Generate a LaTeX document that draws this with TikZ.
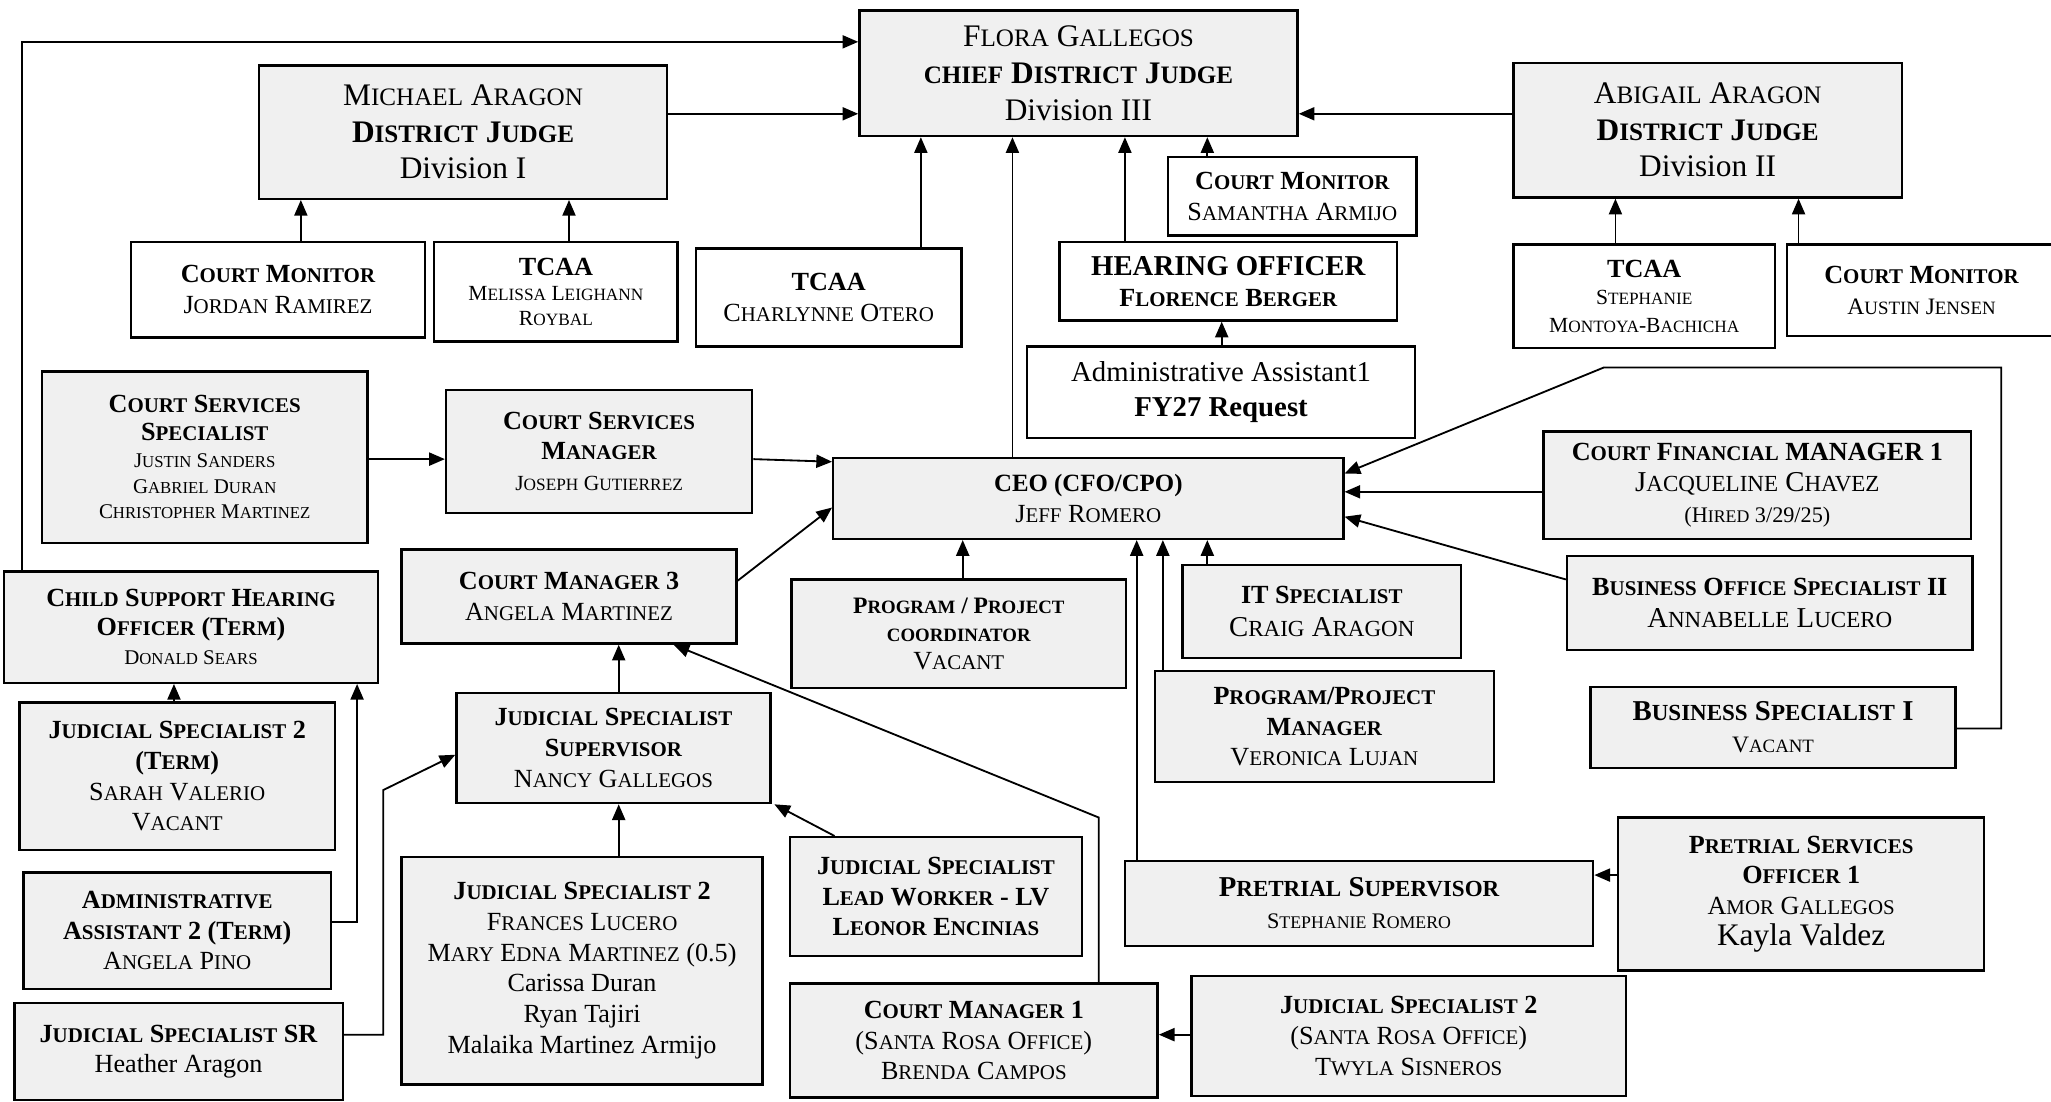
\documentclass[tikz,border=0pt]{standalone}
\usepackage{fontspec}
\setmainfont{Liberation Serif}
\usepackage{graphicx}
\usetikzlibrary{arrows.meta}
\newcommand\smc[1]{\scalebox{0.8}{#1}}
\newcommand\fs[2]{\fontsize{#1}{#2}\selectfont}
\newcommand\obox[7]{\node[#6,minimum width={#4-#2},minimum height={#5-#3}] (#1) at ({(#2+#4)/2},{(#3+#5)/2}) {#7};}
\tikzset{
  box/.style={draw, line width=1.8pt, inner sep=0pt, align=center, font=\fs{20}{23.5}},
  shd/.style={box, fill=black!6},
  pln/.style={box, fill=white},
  arr/.style={line width=1.4pt, -{Triangle[length=12pt,width=10pt]}},
}
\begin{document}
\begin{tikzpicture}[x=1pt,y=-1pt]
\useasboundingbox (0,0) rectangle (1568,842);
\clip (0,0) rectangle (1568,842);
% top row
\obox{flora}{657}{8}{992}{104}{shd,font=\fs{24}{28}}{F\smc{LORA} G\smc{ALLEGOS}\\ \textbf{\smc{CHIEF} D\smc{ISTRICT} J\smc{UDGE}}\\ Division III}
\obox{michael}{198}{50}{510}{152}{shd,font=\fs{24}{28}}{M\smc{ICHAEL} A\smc{RAGON}\\ \textbf{D\smc{ISTRICT} J\smc{UDGE}}\\ Division I}
\obox{abigail}{1157}{48}{1454}{151}{shd,font=\fs{24}{28}}{A\smc{BIGAIL} A\smc{RAGON}\\ \textbf{D\smc{ISTRICT} J\smc{UDGE}}\\ Division II}
\obox{cmjordan}{100}{185}{325}{258}{pln}{\textbf{C\smc{OURT} M\smc{ONITOR}}\\ J\smc{ORDAN} R\smc{AMIREZ}}
\obox{tcaamel}{332}{185}{518}{261}{pln,font=\fs{16.5}{19}}{{\fs{20}{22}\textbf{TCAA}}\\ M\smc{ELISSA} L\smc{EIGHANN}\\ R\smc{OYBAL}}
\obox{tcaachar}{532}{190}{735}{265}{pln}{\textbf{TCAA}\\ C\smc{HARLYNNE} O\smc{TERO}}
\obox{cmsam}{893}{120}{1083}{180}{pln}{\textbf{C\smc{OURT} M\smc{ONITOR}}\\ S\smc{AMANTHA} A\smc{RMIJO}}
\obox{ho}{810}{185}{1068}{245}{pln}{{\fs{22}{24}\bfseries HEARING OFFICER}\\ \textbf{F\smc{LORENCE} B\smc{ERGER}}}
\obox{aa1}{785}{265}{1082}{335}{pln,font=\fs{22}{27}}{Administrative Assistant1\\ \textbf{FY27 Request}}
\obox{tcaasteph}{1157}{187}{1357}{266}{pln,font=\fs{16.5}{21}}{{\fs{20}{22}\textbf{TCAA}}\\ S\smc{TEPHANIE}\\ M\smc{ONTOYA}-B\smc{ACHICHA}}
\obox{cmaustin}{1366}{187}{1572}{257}{pln}{\textbf{C\smc{OURT} M\smc{ONITOR}}\\ {\fs{18}{22}A\smc{USTIN} J\smc{ENSEN}}}
% middle
\obox{css}{32}{284}{281}{415}{shd,font=\fs{16}{19.5}}{{\fs{20}{23}\bfseries C\smc{OURT} S\smc{ERVICES}}\\[2pt] {\fs{20}{23}\bfseries S\smc{PECIALIST}}\\[1pt] J\smc{USTIN} S\smc{ANDERS}\\ G\smc{ABRIEL} D\smc{URAN}\\ C\smc{HRISTOPHER} M\smc{ARTINEZ}}
\obox{csm}{341}{298}{575}{392}{shd}{\textbf{C\smc{OURT} S\smc{ERVICES}}\\ \textbf{M\smc{ANAGER}}\\ {\fs{16.5}{21}J\smc{OSEPH} G\smc{UTIERREZ}}}
\obox{ceo}{637}{350}{1027}{412}{shd}{{\fs{19}{24}\bfseries CEO (CFO/CPO)}\\ J\smc{EFF} R\smc{OMERO}}
\obox{cfm}{1180}{330}{1507}{412}{shd,font=\fs{20}{24}}{\textbf{C\smc{OURT} F\smc{INANCIAL} MANAGER 1}\\ {\fs{22}{25}J\smc{ACQUELINE} C\smc{HAVEZ}}\\ {\fs{17}{21}(H\smc{IRED} 3/29/25)}}
\obox{bos}{1198}{425}{1508}{497}{shd,font=\fs{20}{25}}{\textbf{B\smc{USINESS} O\smc{FFICE} S\smc{PECIALIST} II}\\ {\fs{22}{25}A\smc{NNABELLE} L\smc{UCERO}}}
\obox{bs1}{1216}{525}{1495}{587}{shd,font=\fs{18}{24}}{{\fs{22}{24}\bfseries B\smc{USINESS} S\smc{PECIALIST} I}\\ V\smc{ACANT}}
\obox{csho}{3}{437}{289}{522}{shd,font=\fs{16}{22}}{{\fs{20}{24}\bfseries C\smc{HILD} S\smc{UPPORT} H\smc{EARING}}\\ {\fs{20}{24}\bfseries O\smc{FFICER} (T\smc{ERM})}\\ D\smc{ONALD} S\smc{EARS}}
\obox{cm3}{307}{420}{563}{492}{shd}{\textbf{C\smc{OURT} M\smc{ANAGER} 3}\\ A\smc{NGELA} M\smc{ARTINEZ}}
\obox{ppc}{605}{443}{861}{526}{shd,font=\fs{20}{21.5}}{{\fs{18}{21}\bfseries P\smc{ROGRAM} / P\smc{ROJECT}}\\ {\fs{18}{21}\bfseries\smc{COORDINATOR}}\\ V\smc{ACANT}}
\obox{it}{904}{432}{1117}{503}{shd,font=\fs{20}{25}}{\textbf{IT S\smc{PECIALIST}}\\ {\fs{22}{25}C\smc{RAIG} A\smc{RAGON}}}
\obox{ppm}{883}{513}{1142}{598}{shd}{\textbf{P\smc{ROGRAM}/P\smc{ROJECT}}\\ \textbf{M\smc{ANAGER}}\\ V\smc{ERONICA} L\smc{UJAN}}
\obox{js2t}{15}{537}{256}{650}{shd}{\textbf{J\smc{UDICIAL} S\smc{PECIALIST} 2}\\ \textbf{(T\smc{ERM})}\\ S\smc{ARAH} V\smc{ALERIO}\\ V\smc{ACANT}}
\obox{jss}{349}{530}{589}{614}{shd}{\textbf{J\smc{UDICIAL} S\smc{PECIALIST}}\\ \textbf{S\smc{UPERVISOR}}\\ N\smc{ANCY} G\smc{ALLEGOS}}
\obox{aa2}{18}{667}{253}{756}{shd}{\textbf{A\smc{DMINISTRATIVE}}\\ \textbf{A\smc{SSISTANT} 2 (T\smc{ERM})}\\ A\smc{NGELA} P\smc{INO}}
\obox{jssr}{11}{767}{262}{841}{shd}{\textbf{J\smc{UDICIAL} S\smc{PECIALIST} SR}\\ Heather Aragon}
\obox{js2f}{307}{655}{583}{829}{shd}{\textbf{J\smc{UDICIAL} S\smc{PECIALIST} 2}\\ F\smc{RANCES} L\smc{UCERO}\\ M\smc{ARY} E\smc{DNA} M\smc{ARTINEZ} (0.5)\\ Carissa Duran\\ Ryan Tajiri\\ Malaika Martinez Armijo}
\obox{lw}{604}{640}{827}{731}{shd}{\textbf{J\smc{UDICIAL} S\smc{PECIALIST}}\\ \textbf{L\smc{EAD} W\smc{ORKER} - LV}\\ \textbf{L\smc{EONOR} E\smc{NCINIAS}}}
\obox{ps}{860}{658}{1218}{723}{shd,font=\fs{17}{24}}{{\fs{22}{24}\bfseries P\smc{RETRIAL} S\smc{UPERVISOR}}\\ S\smc{TEPHANIE} R\smc{OMERO}}
\obox{pso}{1237}{625}{1517}{742}{shd}{\textbf{P\smc{RETRIAL} S\smc{ERVICES}}\\ \textbf{O\smc{FFICER} 1}\\ A\smc{MOR} G\smc{ALLEGOS}\\ {\fs{24}{27}Kayla Valdez}}
\obox{cm1}{604}{752}{885}{839}{shd}{\textbf{C\smc{OURT} M\smc{ANAGER} 1}\\ (S\smc{ANTA} R\smc{OSA} O\smc{FFICE})\\ B\smc{RENDA} C\smc{AMPOS}}
\obox{js2sr}{911}{746}{1243}{838}{shd}{\textbf{J\smc{UDICIAL} S\smc{PECIALIST} 2}\\ (S\smc{ANTA} R\smc{OSA} O\smc{FFICE})\\ T\smc{WYLA} S\smc{ISNEROS}}
% connectors
\draw[arr] (17,0 |- csho.north) |- (flora.west |- 0,32);
\draw[arr] (michael.east |- 0,87) -- (flora.west |- 0,87);
\draw[arr] (abigail.west |- 0,87) -- (flora.east |- 0,87);
\draw[arr] (230,0 |- cmjordan.north) -- (230,0 |- michael.south);
\draw[arr] (435,0 |- tcaamel.north) -- (435,0 |- michael.south);
\draw[arr] (704,0 |- tcaachar.north) -- (704,0 |- flora.south);
\draw[arr] (774,0 |- ceo.north) -- (774,0 |- flora.south);
\draw[arr] (860,0 |- ho.north) -- (860,0 |- flora.south);
\draw[arr] (923,0 |- cmsam.north) -- (923,0 |- flora.south);
\draw[arr] (934,0 |- aa1.north) -- (934,0 |- ho.south);
\draw[arr] (1235,0 |- tcaasteph.north) -- (1235,0 |- abigail.south);
\draw[arr] (1375,0 |- cmaustin.north) -- (1375,0 |- abigail.south);
\draw[arr] (css.east |- 0,351) -- (csm.west |- 0,351);
\draw[arr] (csm.east |- 0,351) -- (ceo.west |- 0,353);
\draw[arr] (cm3.east |- 0,444) -- (ceo.west |- 0,388);
\draw[arr] (736,0 |- ppc.north) -- (736,0 |- ceo.south);
\draw[arr] (869,0 |- ps.north) -- (869,0 |- ceo.south);
\draw[arr] (889,0 |- ppm.north) -- (889,0 |- ceo.south);
\draw[arr] (923,0 |- it.north) -- (923,0 |- ceo.south);
\draw[arr] (cfm.west |- 0,376) -- (ceo.east |- 0,376);
\draw[arr] (bos.west |- 0,443) -- (ceo.east |- 0,395);
\draw[arr] (bs1.east |- 0,557) -| (1530,281) -- (1226,281) -- (ceo.east |- 0,362);
\draw[arr] (133,0 |- js2t.north) -- (133,0 |- csho.south);
\draw[arr] (aa2.east |- 0,705) -| (273,0 |- csho.south);
\draw[arr] (473,0 |- jss.north) -- (473,0 |- cm3.south);
\draw[arr] (840,0 |- cm1.north) -- (840,625) -- (515,0 |- cm3.south);
\draw[arr] (473,0 |- js2f.north) -- (473,0 |- jss.south);
\draw[arr] (638,0 |- lw.north) -- (592,0 |- jss.south);
\draw[arr] (jssr.east |- 0,791) -- (293,791) -- (293,604) -- (jss.west |- 0,577);
\draw[arr] (pso.west |- 0,669) -- (ps.east |- 0,669);
\draw[arr] (js2sr.west |- 0,791) -- (cm1.east |- 0,791);
\end{tikzpicture}
\end{document}
